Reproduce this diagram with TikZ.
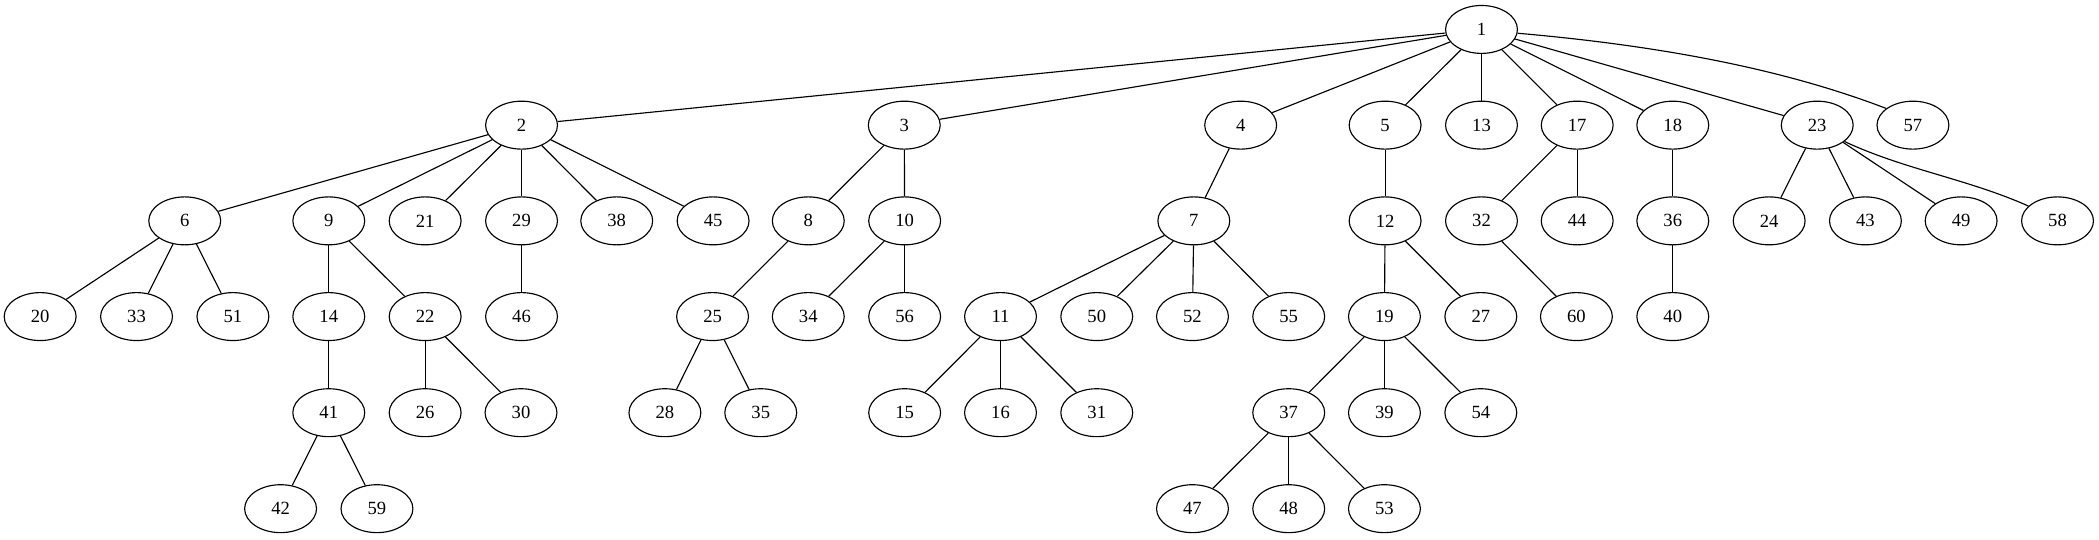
\documentclass[tikz,border=0pt]{standalone}
\usepackage{fontspec}
\setmainfont{Liberation Serif}
\usepackage{tikz}
\usetikzlibrary{shapes.geometric}

\begin{document}
\begin{tikzpicture}[x=1pt, y=1pt,
  vertex/.style={draw, ellipse, inner sep=0pt, minimum width=53.7pt, minimum height=35.8pt, line width=0.85pt, font=\fontsize{13.9}{16}\selectfont},
  edge/.style={line width=0.85pt}]
\useasboundingbox (0,0) rectangle (1568,403);

% rank 0
\node (n1) at (1106.7,381) [vertex] {1};

% rank 1
\node (n2) at (389.6,309.5) [vertex] {2};
\node (n3) at (675.5,309.5) [vertex] {3};
\node (n4) at (926.8,309.5) [vertex] {4};
\node (n5) at (1034.7,309.5) [vertex] {5};
\node (n13) at (1106.7,309.5) [vertex] {13};
\node (n17) at (1178.2,309.5) [vertex] {17};
\node (n18) at (1249.6,309.5) [vertex] {18};
\node (n23) at (1357.5,309.5) [vertex] {23};
\node (n57) at (1429,309.5) [vertex] {57};

% rank 2
\node (n6) at (138,238) [vertex] {6};
\node (n9) at (245.6,238) [vertex] {9};
\node (n21) at (317.6,238) [vertex] {21};
\node (n29) at (389.6,238) [vertex] {29};
\node (n38) at (460.7,238) [vertex] {38};
\node (n45) at (532.7,238) [vertex] {45};
\node (n8) at (603.8,238) [vertex] {8};
\node (n10) at (675.8,238) [vertex] {10};
\node (n7) at (891.8,238) [vertex] {7};
\node (n12) at (1034.7,238) [vertex] {12};
\node (n32) at (1106.7,238) [vertex] {32};
\node (n44) at (1178.2,238) [vertex] {44};
\node (n36) at (1249.6,238) [vertex] {36};
\node (n24) at (1321.6,238) [vertex] {24};
\node (n43) at (1393.5,238) [vertex] {43};
\node (n49) at (1465,238) [vertex] {49};
\node (n58) at (1537,238) [vertex] {58};

% rank 3
\node (n20) at (30,166.5) [vertex] {20};
\node (n33) at (102,166.5) [vertex] {33};
\node (n51) at (174,166.5) [vertex] {51};
\node (n14) at (245.6,166.5) [vertex] {14};
\node (n22) at (317.6,166.5) [vertex] {22};
\node (n46) at (389.6,166.5) [vertex] {46};
\node (n25) at (532.3,166.5) [vertex] {25};
\node (n34) at (603.8,166.5) [vertex] {34};
\node (n56) at (675.8,166.5) [vertex] {56};
\node (n11) at (747.4,166.5) [vertex] {11};
\node (n50) at (819.3,166.5) [vertex] {50};
\node (n52) at (890.8,166.5) [vertex] {52};
\node (n55) at (962.7,166.5) [vertex] {55};
\node (n19) at (1034.2,166.5) [vertex] {19};
\node (n27) at (1106.2,166.5) [vertex] {27};
\node (n60) at (1177.6,166.5) [vertex] {60};
\node (n40) at (1249.6,166.5) [vertex] {40};

% rank 4
\node (n41) at (245.6,94.7) [vertex] {41};
\node (n26) at (317.6,94.7) [vertex] {26};
\node (n30) at (389.2,94.7) [vertex] {30};
\node (n28) at (496.7,94.7) [vertex] {28};
\node (n35) at (568.3,94.7) [vertex] {35};
\node (n15) at (675.8,94.7) [vertex] {15};
\node (n16) at (747.4,94.7) [vertex] {16};
\node (n31) at (819.3,94.7) [vertex] {31};
\node (n37) at (962.7,94.7) [vertex] {37};
\node (n39) at (1034.2,94.7) [vertex] {39};
\node (n54) at (1106.2,94.7) [vertex] {54};

% rank 5
\node (n42) at (209.6,23) [vertex] {42};
\node (n59) at (281.6,23) [vertex] {59};
\node (n47) at (890.8,23) [vertex] {47};
\node (n48) at (962.7,23) [vertex] {48};
\node (n53) at (1034.2,23) [vertex] {53};

% edges
\draw [edge] (n1) -- (n2);
\draw [edge] (n1) -- (n3);
\draw [edge] (n1) -- (n4);
\draw [edge] (n1) -- (n5);
\draw [edge] (n1) -- (n13);
\draw [edge] (n1) -- (n17);
\draw [edge] (n1) -- (n18);
\draw [edge] (n1) -- (n23);
\draw [edge] (n1.-6) .. controls +(-5:95) and +(159:90) .. (n57.148);
\draw [edge] (n2) -- (n6);
\draw [edge] (n2) -- (n9);
\draw [edge] (n2) -- (n21);
\draw [edge] (n2) -- (n29);
\draw [edge] (n2) -- (n38);
\draw [edge] (n2) -- (n45);
\draw [edge] (n3) -- (n8);
\draw [edge] (n3) -- (n10);
\draw [edge] (n4) -- (n7);
\draw [edge] (n5) -- (n12);
\draw [edge] (n17) -- (n32);
\draw [edge] (n17) -- (n44);
\draw [edge] (n18) -- (n36);
\draw [edge] (n23) -- (n24);
\draw [edge] (n23) -- (n43);
\draw [edge] (n23) -- (n49);
\draw [edge] (n23.-31) .. controls +(-25:50) and +(156:50) .. (n58.153);
\draw [edge] (n6) -- (n20);
\draw [edge] (n6) -- (n33);
\draw [edge] (n6) -- (n51);
\draw [edge] (n9) -- (n14);
\draw [edge] (n9) -- (n22);
\draw [edge] (n29) -- (n46);
\draw [edge] (n8) -- (n25);
\draw [edge] (n10) -- (n34);
\draw [edge] (n10) -- (n56);
\draw [edge] (n7) -- (n11);
\draw [edge] (n7) -- (n50);
\draw [edge] (n7) -- (n52);
\draw [edge] (n7) -- (n55);
\draw [edge] (n12) -- (n19);
\draw [edge] (n12) -- (n27);
\draw [edge] (n32) -- (n60);
\draw [edge] (n36) -- (n40);
\draw [edge] (n14) -- (n41);
\draw [edge] (n22) -- (n26);
\draw [edge] (n22) -- (n30);
\draw [edge] (n25) -- (n28);
\draw [edge] (n25) -- (n35);
\draw [edge] (n11) -- (n15);
\draw [edge] (n11) -- (n16);
\draw [edge] (n11) -- (n31);
\draw [edge] (n19) -- (n37);
\draw [edge] (n19) -- (n39);
\draw [edge] (n19) -- (n54);
\draw [edge] (n41) -- (n42);
\draw [edge] (n41) -- (n59);
\draw [edge] (n37) -- (n47);
\draw [edge] (n37) -- (n48);
\draw [edge] (n37) -- (n53);
\end{tikzpicture}
\end{document}
